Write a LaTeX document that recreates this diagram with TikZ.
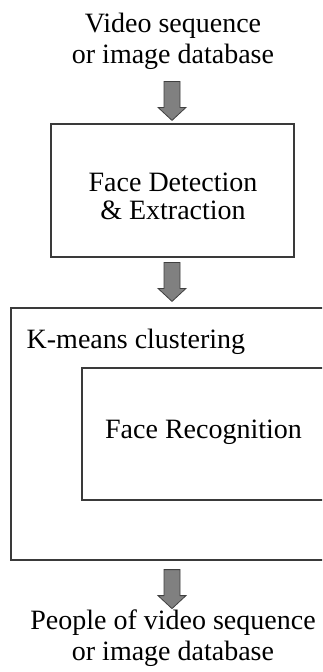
\documentclass[tikz,border=0pt]{standalone}
\usepackage{fontspec}
\setmainfont{Liberation Serif}
\usetikzlibrary{calc}
\definecolor{boxline}{HTML}{3A3A3A}
\definecolor{arrowfill}{HTML}{808080}
\definecolor{arrowline}{HTML}{404040}
\tikzset{
  txt/.style={font=\fontsize{28}{31}\selectfont, align=center, inner sep=0pt},
  procbox/.style={draw=boxline, line width=1.2pt, inner sep=0pt},
  % thick downward block arrow, tip at the pic origin
  blockarrow/.pic={
    \filldraw[draw=arrowline, fill=arrowfill, line width=0.8pt, line join=miter]
      (-8,-39) -- (-8,-13) -- (-14,-13) -- (0,0) -- (14,-13) -- (8,-13) -- (8,-39) -- cycle;
  }
}
\begin{document}
\begin{tikzpicture}[x=1pt,y=-1pt]
  \useasboundingbox (0,0) rectangle (322,672);
  \clip (0,0) rectangle (322,672);
  \fill[white] (0,0) rectangle (322,672);

  % input
  \node[txt] (src) at (173,41) {Video sequence\\or image database};

  % detection stage
  \node[procbox, minimum width=243pt, minimum height=133pt] (det) at (172.5,190.5) {};
  \node[txt, font=\fontsize{28}{28}\selectfont] (dettxt) at (173,196) {Face Detection\\\& Extraction};

  % clustering stage with recognition inside
  \node[procbox, minimum width=329pt, minimum height=252pt] (km) at (175.5,434) {};
  \node[txt, anchor=west] (kmtxt) at (26.5,342) {K-means clustering};
  \node[procbox, minimum width=258pt, minimum height=132pt] (rec) at (211,434) {};
  \node[txt] (rectxt) at (203.5,432) {Face Recognition};

  % output
  \node[txt] (dst) at (173,638) {People of video sequence\\or image database};

  % block arrows between stages
  \coordinate (t1) at ($(det.north -| 172,0)+(0,-3)$);
  \coordinate (t2) at ($(km.north -| 172,0)+(0,-6)$);
  \coordinate (t3) at ($(km.south -| 172,0)+(0,48)$);
  \pic at (t1) {blockarrow};
  \pic at (t2) {blockarrow};
  \pic at (t3) {blockarrow};
\end{tikzpicture}
\end{document}
